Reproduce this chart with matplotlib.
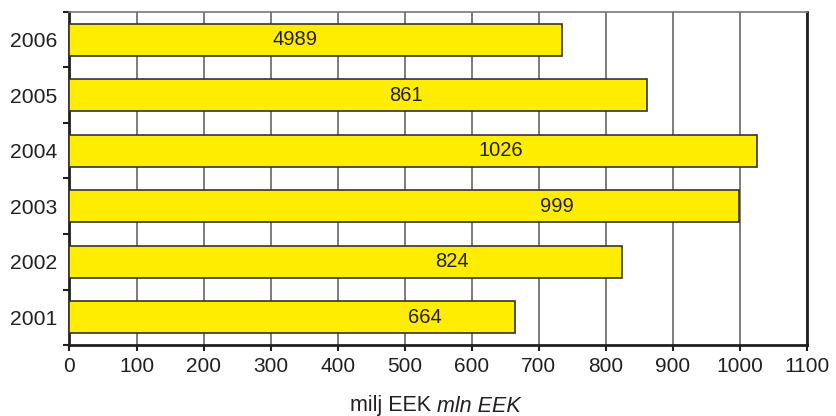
import numpy as np
import matplotlib
matplotlib.use("Agg")
import matplotlib.pyplot as plt

plt.rcParams['font.family'] = ['Liberation Sans', 'DejaVu Sans']

# data
years = ['2001', '2002', '2003', '2004', '2005', '2006']
values = [664, 824, 999, 1026, 861, 735]
bar_labels = ['664', '824', '999', '1026', '861', '4989']
label_x = [530, 570, 727, 644, 502, 336]   # where the labels sit (data units)

fig = plt.figure(figsize=(8.37, 4.16), dpi=100)
ax = fig.add_axes([69.5 / 837, 71 / 416, (807 - 69.5) / 837, (345 - 12) / 416])

y = np.arange(len(years))
ax.barh(y, values, height=0.58, color='#FFED00', edgecolor='#333333',
        linewidth=1.2, zorder=3)

for yi, lx, txt in zip(y, label_x, bar_labels):
    ax.text(lx, yi, txt, ha='center', va='center', fontsize=14.5,
            color='#231f20', zorder=4)

ax.set_xlim(0, 1100)
ax.set_ylim(-0.5, len(years) - 0.5)
ax.set_xticks(np.arange(0, 1101, 100))
ax.tick_params(axis='x', labelsize=15, length=4, width=1.5, pad=4.5,
               colors='#231f20', direction='out')

# major ticks at category boundaries, labels at centres
ax.set_yticks(np.arange(-0.5, len(years), 1.0))
ax.set_yticklabels([])
ax.set_yticks(y, minor=True)
ax.set_yticklabels(years, minor=True)
ax.tick_params(axis='y', which='major', length=4, width=1.5, direction='out',
               colors='#231f20')
ax.tick_params(axis='y', which='minor', length=0, labelsize=15.2, pad=8.5,
               colors='#231f20')

ax.grid(axis='x', color='#666666', linewidth=1.2, zorder=0)
ax.set_axisbelow(True)

for side in ['left', 'bottom', 'right']:
    ax.spines[side].set_color('#231f20')
    ax.spines[side].set_linewidth(2)
ax.spines['top'].set_color('#777777')
ax.spines['top'].set_linewidth(1.2)

# axis title: upright part, then italic part
xl = 437 / 837
fig.text(xl, 1 - 406 / 416, 'milj EEK ', ha='right', va='center',
         fontsize=15.5, color='#231f20')
fig.text(xl, 1 - 406 / 416, 'mln EEK', ha='left', va='center',
         fontsize=15.5, color='#231f20', style='italic')

fig.savefig('out.png', dpi=100)
